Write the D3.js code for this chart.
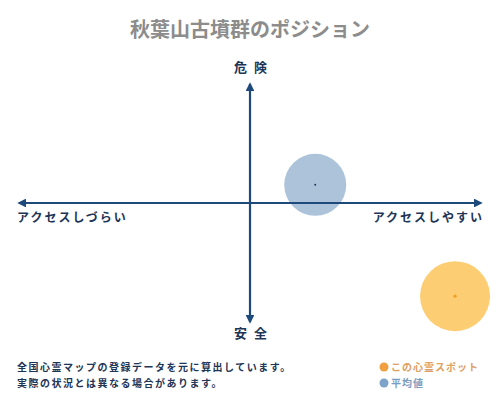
<!DOCTYPE html>
<html>
<head>
<meta charset="utf-8">
<script src="https://cdn.jsdelivr.net/npm/d3@7"></script>
<style>
  body { margin: 0; background: #fff; }
  text { font-family: "Noto Sans CJK JP", "Noto Sans", sans-serif; }
</style>
</head>
<body>
<div id="chart"></div>
<script>
// chart values
const title = '秋葉山古墳群のポジション'
const axisLabels = ['危険', '安全', 'アクセスしづらい', 'アクセスしやすい']
const pointNames = ['平均値', 'この心霊スポット']
const pointX = [0.28, 0.88]
const pointY = [0.15, -0.77]
const notes = ['全国心霊マップの登録データを元に算出しています。', '実際の状況とは異なる場合があります。']

const width = 500, height = 400
const navy = '#1d4a7a'

const svg = d3.select('#chart').append('svg')
    .attr('width', width).attr('height', height)

// scales: -1..1 both ways, danger is up
const xScale = d3.scaleLinear().domain([-1, 1]).range([17, 483])
const yScale = d3.scaleLinear().domain([-1, 1]).range([324, 82])

// arrow heads
const defs = svg.append('defs')
defs.append('marker')
    .attr('id', 'arrow')
    .attr('viewBox', '0 0 10 10')
    .attr('refX', 8).attr('refY', 5)
    .attr('markerWidth', 4).attr('markerHeight', 4)
    .attr('orient', 'auto-start-reverse')
  .append('path')
    .attr('d', 'M0,0 L10,5 L0,10 z')
    .attr('fill', navy)

// title
svg.append('text')
    .attr('x', width / 2).attr('y', 37)
    .attr('text-anchor', 'middle')
    .attr('font-size', 20)
    .attr('font-weight', 'bold')
    .attr('fill', '#8c8c8c')
    .text(title)

// circles
const colors = ['#a3bcd6', '#fdca6c']
const dotColors = ['#1d3a5c', '#f0a020']
const radius = [31, 35]

svg.selectAll('circle.bubble')
   .data(pointX)
   .enter()
   .append('circle')
   .attr('class', 'bubble')
   .attr('cx', (d, i) => xScale(d))
   .attr('cy', (d, i) => yScale(pointY[i]))
   .attr('r', (d, i) => radius[i])
   .attr('fill', (d, i) => colors[i])
   .attr('opacity', (d, i) => i == 0 ? 0.9 : 0.95)

svg.selectAll('circle.dot')
   .data(pointX)
   .enter()
   .append('circle')
   .attr('class', 'dot')
   .attr('cx', (d, i) => xScale(d))
   .attr('cy', (d, i) => yScale(pointY[i]))
   .attr('r', (d, i) => i == 0 ? 1 : 1.6)
   .attr('fill', (d, i) => dotColors[i])

// axes
svg.append('line')
    .attr('x1', xScale(-1) + 2).attr('x2', xScale(1) - 2)
    .attr('y1', yScale(0)).attr('y2', yScale(0))
    .attr('stroke', navy).attr('stroke-width', 2.2)
    .attr('marker-start', 'url(#arrow)')
    .attr('marker-end', 'url(#arrow)')

svg.append('line')
    .attr('x1', xScale(0)).attr('x2', xScale(0))
    .attr('y1', yScale(1) + 2).attr('y2', yScale(-1) - 2)
    .attr('stroke', navy).attr('stroke-width', 2.2)
    .attr('marker-start', 'url(#arrow)')
    .attr('marker-end', 'url(#arrow)')

// axis labels
const labelStyle = sel => sel
    .attr('font-size', 12)
    .attr('font-weight', 'bold')
    .attr('fill', '#1d3557')
    .attr('letter-spacing', 2)

svg.append('text').call(labelStyle)
    .attr('x', xScale(0) + 4).attr('y', 72)
    .attr('text-anchor', 'middle')
    .attr('font-size', 13)
    .attr('letter-spacing', 7)
    .text(axisLabels[0])

svg.append('text').call(labelStyle)
    .attr('x', xScale(0) + 4).attr('y', 338)
    .attr('text-anchor', 'middle')
    .attr('font-size', 13)
    .attr('letter-spacing', 7)
    .text(axisLabels[1])

svg.append('text').call(labelStyle)
    .attr('x', 17).attr('y', 222)
    .attr('text-anchor', 'start')
    .text(axisLabels[2])

svg.append('text').call(labelStyle)
    .attr('x', 484).attr('y', 222)
    .attr('text-anchor', 'end')
    .text(axisLabels[3])

// notes
svg.selectAll('text.note')
   .data(notes)
   .enter()
   .append('text')
   .attr('class', 'note')
   .attr('x', 17)
   .attr('y', (d, i) => 371 + i * 16)
   .attr('font-size', 10)
   .attr('font-weight', 'bold')
   .attr('fill', '#1d3557')
   .attr('letter-spacing', 1.5)
   .text(d => d)

// legend
const legendColors = ['#f0a040', '#7ea5c9']
const legendText = ['#e0a060', '#7a9cc0']
const legendNames = [pointNames[1], pointNames[0]]
legendNames.forEach((name, i) => {
    svg.append('circle')
       .attr('cx', 384).attr('cy', 367 + i * 16)
       .attr('r', 4.5)
       .attr('fill', legendColors[i])
    svg.append('text')
       .attr('x', 391).attr('y', 371 + i * 16)
       .attr('font-size', 10)
       .attr('font-weight', 'bold')
       .attr('fill', legendText[i])
       .attr('letter-spacing', 1)
       .text(name)
})
</script>
</body>
</html>
